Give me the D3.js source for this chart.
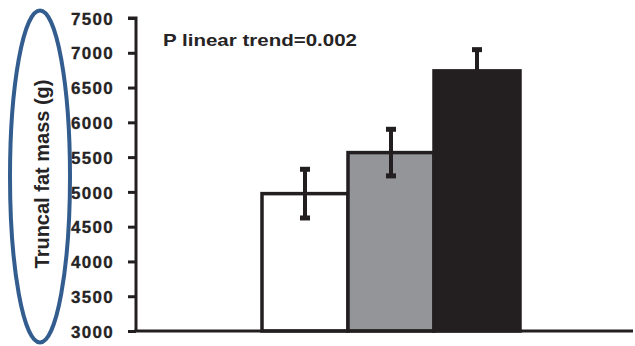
<!DOCTYPE html>
<html>
<head>
<meta charset="utf-8">
<script src="https://cdn.jsdelivr.net/npm/d3@7/dist/d3.min.js"></script>
<style>
  html, body { margin: 0; padding: 0; background: #fff; }
  svg { display: block; }
  text { font-family: "Liberation Sans", Arial, sans-serif; font-weight: bold; fill: #262324; }
</style>
</head>
<body>
<svg id="chart" width="635" height="346"></svg>
<script>
// Truncal fat mass by group, mean ± SE
const groups = ["Group 1", "Group 2", "Group 3"];
const means = [4975, 5565, 6740];
const errors = [350, 335, 305];
const fills = ["#ffffff", "#939598", "#231f20"];
const yTicks = [3000, 3500, 4000, 4500, 5000, 5500, 6000, 6500, 7000, 7500];
const yLabel = "Truncal fat mass (g)";
const trendNote = "P linear trend=0.002";

const svg = d3.select("#chart");
const ink = "#231f20";

const y = d3.scaleLinear().domain([3000, 7500]).range([331, 18]);
const x = d3.scaleBand().domain(groups).range([262, 520]).padding(0);
const axisX = 136;

// bars
svg.append("g").selectAll("rect")
  .data(groups)
  .join("rect")
  .attr("x", d => x(d))
  .attr("width", x.bandwidth())
  .attr("y", (d, i) => y(means[i]))
  .attr("height", (d, i) => y(3000) - y(means[i]))
  .attr("fill", (d, i) => fills[i])
  .attr("stroke", ink)
  .attr("stroke-width", 3.5);

// error bars
const eb = svg.append("g").attr("stroke", ink);
groups.forEach((g, i) => {
  const cx = x(g) + x.bandwidth() / 2;
  eb.append("line").attr("x1", cx).attr("x2", cx)
    .attr("stroke-width", 4)
    .attr("y1", y(means[i] + errors[i])).attr("y2", y(means[i] - errors[i]));
  [means[i] + errors[i], means[i] - errors[i]].forEach(v => {
    eb.append("line").attr("x1", cx - 5).attr("x2", cx + 5)
      .attr("stroke-width", 5)
      .attr("y1", y(v)).attr("y2", y(v));
  });
});

// y axis
const yAxis = d3.axisLeft(y).tickValues(yTicks).tickSize(8).tickPadding(14).tickFormat(d3.format("d"));
const ya = svg.append("g").attr("transform", `translate(${axisX},0)`).call(yAxis);
ya.select(".domain").attr("stroke", ink).attr("stroke-width", 3).attr("d", `M-8,${y(7500)}H0V${y(3000)}`);
ya.selectAll(".tick line").attr("stroke", ink).attr("stroke-width", 3);
ya.selectAll(".tick text")
  .attr("font-size", 17)
  .attr("letter-spacing", "1.3px")
  .attr("font-family", "Liberation Sans, Arial, sans-serif")
  .attr("font-weight", "bold")
  .attr("fill", "#262324")
  .attr("stroke", "#262324")
  .attr("stroke-width", 0.3)
  .attr("dy", "0.36em");

// x axis baseline
svg.append("line")
  .attr("x1", axisX - 1.5).attr("x2", 633)
  .attr("y1", y(3000)).attr("y2", y(3000))
  .attr("stroke", ink).attr("stroke-width", 3);

// annotation
svg.append("text")
  .attr("x", 163).attr("y", 46)
  .attr("font-size", 17)
  .attr("textLength", 194)
  .attr("lengthAdjust", "spacingAndGlyphs")
  .text(trendNote);

// y label with highlight ellipse
svg.append("text")
  .attr("transform", "translate(49,174) rotate(-90)")
  .attr("text-anchor", "middle")
  .attr("font-size", 20)
  .text(yLabel);

svg.append("ellipse")
  .attr("cx", 40).attr("cy", 176.5)
  .attr("rx", 30).attr("ry", 166)
  .attr("fill", "none")
  .attr("stroke", "#335d8f")
  .attr("stroke-width", 4);
</script>
</body>
</html>
